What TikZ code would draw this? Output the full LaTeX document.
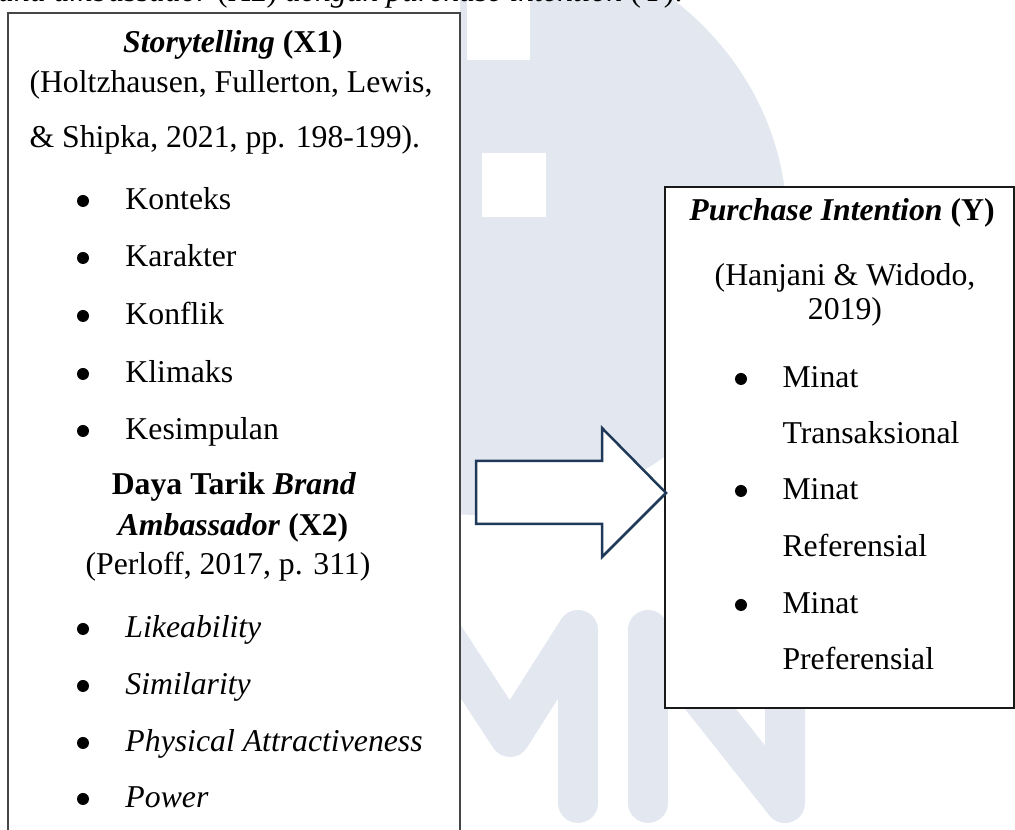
\documentclass[tikz,border=0pt]{standalone}
\usepackage{fontspec}
\setmainfont{Liberation Serif}
\definecolor{wmblue}{RGB}{226,231,240}
\definecolor{arrowblue}{RGB}{31,58,88}
\definecolor{lborder}{RGB}{70,70,70}
\tikzset{
  txt/.style={inner sep=0pt, font=\fontsize{12.7pt}{15pt}\selectfont},
  bul/.style={circle, fill=black, inner sep=0pt, minimum size=4.8pt},
  wm/.style={draw=wmblue, line width=16pt, line cap=round, line join=round},
  boxL/.style={draw=lborder, line width=0.9pt, fill=white},
  boxR/.style={draw=black!90, line width=0.7pt, fill=white},
  bigarrow/.style={draw=arrowblue, line width=1pt, fill=white, line join=miter}
}
\begin{document}
\begin{tikzpicture}[x=0.4pt,y=-0.4pt]
\useasboundingbox (0,0) rectangle (1015,830);
\clip (0,0) rectangle (1015,830);
% watermark
\begin{scope}
  \clip (460,-10) rectangle (1020,840);
  \fill[wmblue] (480,225) ellipse [x radius=307, y radius=290];
\end{scope}
\fill[white] (467,-5) rectangle (530,60);
\fill[white] (482,153) rectangle (546,217);
\draw[wm] (440,630) -- (510,737) -- (578,630) -- (578,803);
\draw[wm] (440,630) -- (440,803);
\draw[wm] (648,803) -- (648,630) -- (785,803) -- (785,630);
% caption fragment
\node[txt, anchor=base east] (cap) at (683,2) {\textit{brand ambassador} (X2) \textit{dengan purchase intention} (Y).};
% boxes
\draw[boxL] (8,13) rectangle (460,900);
\draw[boxR] (665,187) rectangle (1014,708);
% arrow
\draw[bigarrow] (476,461) -- (602,461) -- (602,428) -- (666,493) -- (602,557) -- (602,524) -- (476,524) -- cycle;
% left box text
\node[txt, anchor=base] (x1h) at (233,53) {\textbf{\textit{Storytelling} (X1)}};
\node[txt, anchor=base west] (x1c1) at (29,93) {(Holtzhausen, Fullerton, Lewis,};
\node[txt, anchor=base west] (x1c2) at (29,148) {\& Shipka, 2021, pp. 198-199).};
\node[bul] (b1) at (83,201) {};
\node[txt, anchor=base west] (i1) at (125,210) {Konteks};
\node[bul] (b2) at (83,258) {};
\node[txt, anchor=base west] (i2) at (125,267) {Karakter};
\node[bul] (b3) at (83,316) {};
\node[txt, anchor=base west] (i3) at (125,325) {Konflik};
\node[bul] (b4) at (83,374) {};
\node[txt, anchor=base west] (i4) at (125,383) {Klimaks};
\node[bul] (b5) at (83,431) {};
\node[txt, anchor=base west] (i5) at (125,440) {Kesimpulan};
\node[txt, anchor=base] (x2h1) at (234,495) {\textbf{Daya Tarik \textit{Brand}}};
\node[txt, anchor=base] (x2h2) at (233,536) {\textbf{\textit{Ambassador} (X2)}};
\node[txt, anchor=base] (x2c) at (228,575) {(Perloff, 2017, p. 311)};
\node[bul] (b6) at (83,629) {};
\node[txt, anchor=base west] (i6) at (125,638) {\textit{Likeability}};
\node[bul] (b7) at (83,686) {};
\node[txt, anchor=base west] (i7) at (125,695) {\textit{Similarity}};
\node[bul] (b8) at (83,743) {};
\node[txt, anchor=base west] (i8) at (125,752) {\textit{Physical Attractiveness}};
\node[bul] (b9) at (83,799) {};
\node[txt, anchor=base west] (i9) at (125,808) {\textit{Power}};
% right box text
\node[txt, anchor=base] (yh) at (842,221) {\textbf{\textit{Purchase Intention} (Y)}};
\node[txt, anchor=base] (yc1) at (845,286) {(Hanjani \& Widodo,};
\node[txt, anchor=base] (yc2) at (845,320) {2019)};
\node[bul] (c1) at (741,379) {};
\node[txt, anchor=base west] (j1) at (782,388) {Minat};
\node[txt, anchor=base west] (j1b) at (782,444) {Transaksional};
\node[bul] (c2) at (741,491) {};
\node[txt, anchor=base west] (j2) at (782,500) {Minat};
\node[txt, anchor=base west] (j2b) at (782,557) {Referensial};
\node[bul] (c3) at (741,605) {};
\node[txt, anchor=base west] (j3) at (782,614) {Minat};
\node[txt, anchor=base west] (j3b) at (782,670) {Preferensial};
\end{tikzpicture}
\end{document}
